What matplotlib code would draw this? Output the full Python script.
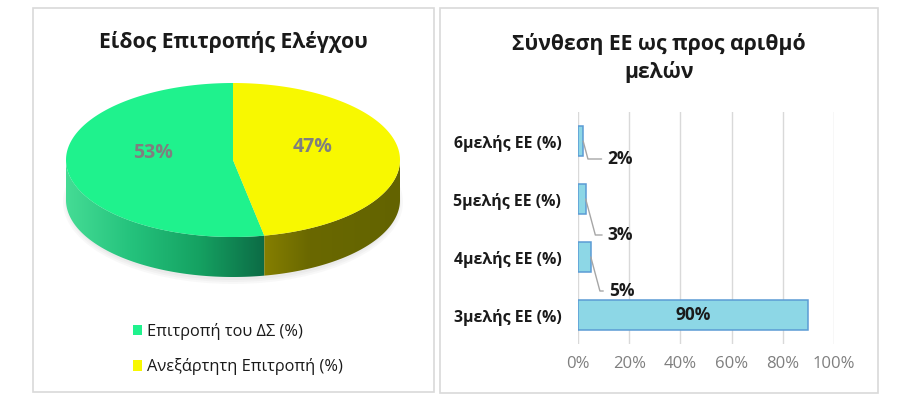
import numpy as np
import matplotlib
matplotlib.use("Agg")
import matplotlib.pyplot as plt
from matplotlib.patches import Polygon, Rectangle, Patch, Ellipse
from matplotlib.colors import LinearSegmentedColormap

plt.rcParams['font.family'] = ['Open Sans', 'DejaVu Sans']

# ---------------- data ----------------
pie_title = "Είδος Επιτροπής Ελέγχου"
pie_labels = ["Επιτροπή του ΔΣ (%)", "Ανεξάρτητη Επιτροπή (%)"]
pie_values = [53, 47]
pie_colors = ["#1ff28d", "#f8f800"]

bar_title = "Σύνθεση ΕΕ ως προς αριθμό\nμελών"
bar_categories = ["3μελής ΕΕ (%)", "4μελής ΕΕ (%)", "5μελής ΕΕ (%)", "6μελής ΕΕ (%)"]
bar_values = [90, 5, 3, 2]
x_ticks = [0, 20, 40, 60, 80, 100]
x_ticklabels = ["0%", "20%", "40%", "60%", "80%", "100%"]
# label offsets (pixels) for the small bars' callouts
label_offsets = [None, (18, -34), (22, -36), (24, -18)]

W, H = 913, 405
fig = plt.figure(figsize=(W / 100, H / 100), dpi=100)
fig.patch.set_facecolor("white")

# overlay axis in pixel coordinates (y downward)
ov = fig.add_axes([0, 0, 1, 1], zorder=0)
ov.set_xlim(0, W)
ov.set_ylim(H, 0)
ov.axis("off")

# panel borders
ov.add_patch(Rectangle((33, 8), 401, 384, fill=False, ec="#d9d9d9", lw=1.2))
ov.add_patch(Rectangle((440, 8), 438, 385, fill=False, ec="#d9d9d9", lw=1.2))

# ---------------- 3D pie ----------------
cx, cy, rx, ry, depth = 233, 160, 167, 77, 40


def pt(theta_deg, dz=0.0):
    t = np.radians(theta_deg)
    return cx + rx * np.cos(t), cy - ry * np.sin(t) + dz


total = float(sum(pie_values))
angles = [90.0]
for v in pie_values:
    angles.append(angles[-1] + v / total * 360.0)

# soft shadow
for k, a in enumerate([0.05, 0.05, 0.06]):
    ov.add_patch(Ellipse((cx, cy + depth + 2), 2 * rx + 6 - 4 * k, 2 * ry + 10 - 4 * k,
                         fc="#808080", ec="none", alpha=a, zorder=1))

wall_cmaps = [
    LinearSegmentedColormap.from_list("g", ["#45dc95", "#24c27c", "#15a262", "#0c6b45"]),
    LinearSegmentedColormap.from_list("y", ["#857f00", "#6a6800", "#666600", "#636300"]),
]

for i in range(len(pie_values)):
    a0, a1 = angles[i], angles[i + 1]
    segs = []
    for base in (0, 360):
        lo = max(a0, 180 + base)
        hi = min(a1, 360 + base)
        if hi > lo:
            segs.append((lo, hi))
    for lo, hi in segs:
        th = np.linspace(lo, hi, 120)
        top = [pt(t) for t in th]
        bot = [pt(t, depth) for t in th[::-1]]
        poly = Polygon(top + bot, closed=True, fc="none", ec="none", zorder=2)
        ov.add_patch(poly)
        xs = [p[0] for p in top]
        xmin, xmax = min(xs), max(xs)
        grad = np.linspace(0, 1, 256).reshape(1, -1)
        if xs[0] > xs[-1]:
            grad = grad[:, ::-1]
        im = ov.imshow(grad, cmap=wall_cmaps[i], aspect="auto",
                       extent=(xmin, xmax, cy + ry + depth + 2, cy - 5), zorder=2,
                       interpolation="bilinear")
        im.set_clip_path(poly)

# top face wedges
for i in range(len(pie_values)):
    th = np.linspace(angles[i], angles[i + 1], 200)
    pts = [(cx, cy)] + [pt(t) for t in th]
    ov.add_patch(Polygon(pts, closed=True, fc=pie_colors[i], ec="none", zorder=3))

# pie labels
for i, v in enumerate(pie_values):
    mid = (angles[i] + angles[i + 1]) / 2
    t = np.radians(mid)
    x = cx + 0.48 * rx * np.cos(t)
    y = cy - 0.48 * ry * np.sin(t) - 10
    ov.text(x, y, f"{v}%", ha="center", va="center", fontsize=14,
            fontweight="bold", color="#7f7f7f", zorder=4)

ov.text(233, 42, pie_title, ha="center", va="center", fontsize=15.2,
        fontweight="bold", color="#1a1a1a")

handles = [Patch(fc=c, ec="none") for c in pie_colors]
leg = fig.legend(handles, pie_labels, loc="upper left",
                 bbox_to_anchor=(126 / W, 1 - 316 / H), frameon=False,
                 fontsize=11.8, handlelength=0.6, handleheight=0.6,
                 handletextpad=0.3, labelspacing=1.15, borderaxespad=0)
for t in leg.get_texts():
    t.set_color("#1a1a1a")

# ---------------- bar chart ----------------
ax = fig.add_axes([578 / W, 1 - 344 / H, 256 / W, 232 / H], zorder=2)
ax.patch.set_alpha(0)
ypos = np.arange(len(bar_categories))
bars = ax.barh(ypos, bar_values, height=0.52, color="#8dd7e6",
               edgecolor="#5b9bd5", linewidth=1.1, zorder=3)
ax.set_xlim(0, 100)
ax.set_ylim(-0.5, len(bar_categories) - 0.5)
ax.set_xticks(x_ticks)
ax.set_xticklabels(x_ticklabels, color="#7f7f7f", fontsize=12)
ax.set_yticks(ypos)
ax.set_yticklabels(bar_categories, fontsize=11.4, fontweight="bold", color="#1a1a1a")
ax.tick_params(axis="both", length=0)
ax.tick_params(axis="x", pad=9)
ax.tick_params(axis="y", pad=12)
ax.grid(axis="x", color="#d9d9d9", lw=1, zorder=0)
for s in ax.spines.values():
    s.set_visible(False)

for i, v in enumerate(bar_values):
    off = label_offsets[i]
    if off is None:
        ax.text(v / 2, i, f"{v}%", ha="center", va="center", fontsize=12.5,
                fontweight="bold", color="#1a1a1a", zorder=4)
    else:
        ax.annotate(f"{v}%", xy=(v, i), xytext=off, textcoords="offset pixels",
                    ha="left", va="center", fontsize=12.5, fontweight="bold",
                    color="#1a1a1a", zorder=4,
                    arrowprops=dict(arrowstyle="-", color="#a6a6a6", lw=1,
                                    shrinkA=2, shrinkB=0, relpos=(0, 0.5),
                                    connectionstyle="angle,angleA=0,angleB=-75"))

ov.text(659, 58, bar_title, ha="center", va="center", fontsize=15.2,
        fontweight="bold", color="#1a1a1a", linespacing=1.4)

fig.savefig("out.png", dpi=100, facecolor="white")
